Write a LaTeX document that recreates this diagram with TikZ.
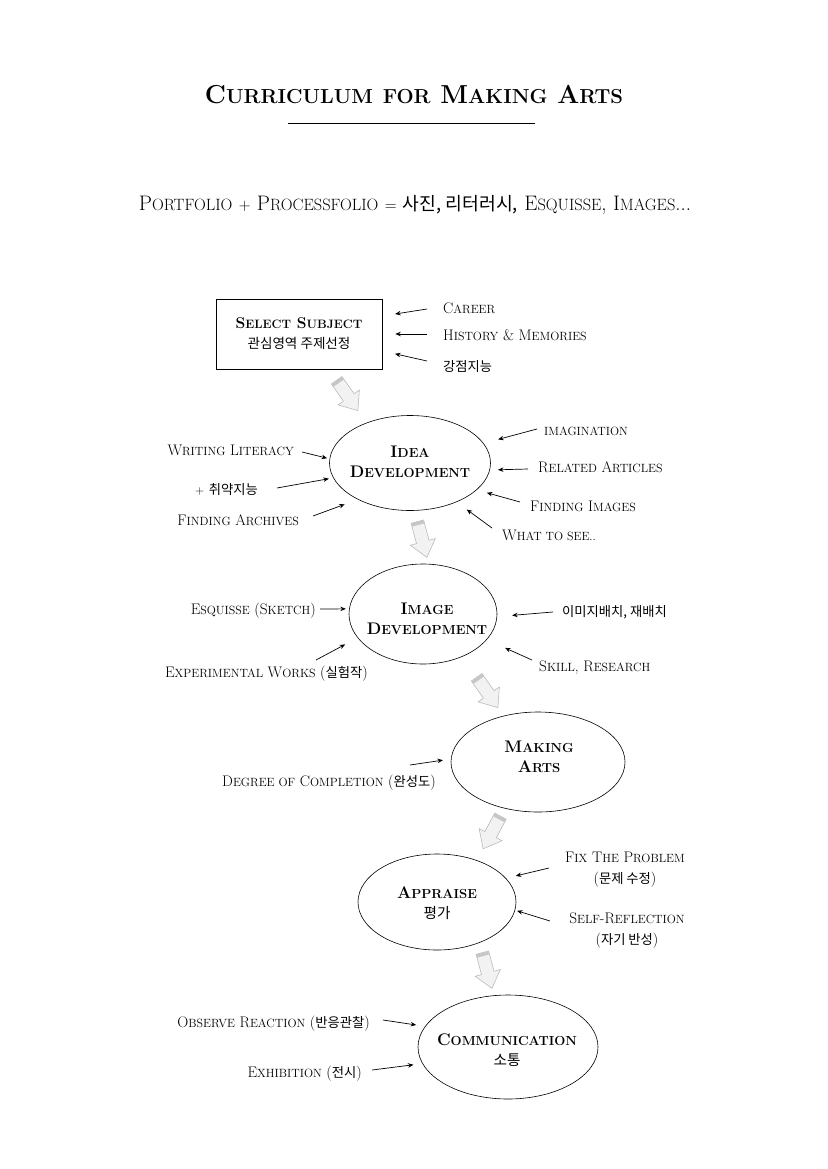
\documentclass[tikz,border=0pt]{standalone}
\usepackage{fontspec}
\newfontfamily\kr{Noto Sans CJK KR}
\usetikzlibrary{arrows.meta,shapes.geometric,calc}
\makeatletter
\newcommand\lo[1]{{\fontsize{\fpeval{0.78*\f@size}}{0}\selectfont #1}}
\newcommand\ko[1]{{\kr\mdseries\fontsize{\fpeval{0.87*\f@size}}{0}\selectfont #1}}
\makeatother
\tikzset{
  lbl/.style={font=\fontsize{15.3}{21}\selectfont, inner sep=0pt},
  ell/.style={ellipse, draw, line width=0.6pt, inner sep=0pt},
  ttl/.style={inner sep=0pt, align=center, font=\bfseries\fontsize{16.8}{20.5}\selectfont},
  lab/.style={-{Stealth[length=5.5pt,width=4.5pt]}, line width=0.7pt},
  blockarrow/.pic={
    \draw[draw=gray!60, fill=gray!10, line width=0.5pt]
      (-6.5,-18) -- (6.5,-18) -- (6.5,3) -- (13,3) -- (0,19) -- (-13,3) -- (-6.5,3) -- cycle;
    \fill[gray!45] (-6.2,-17.7) rectangle (6.2,-14.5);
  }
}
\begin{document}
\begin{tikzpicture}[x=1pt,y=-1pt]
\useasboundingbox[fill=white] (0,0) rectangle (827,1169);

% title
\node[font=\bfseries\fontsize{26}{30}\selectfont, inner sep=0] (title) at (414,95)
  {C\lo{URRICULUM} \lo{FOR} M\lo{AKING} A\lo{RTS}};
\draw[line width=0.8pt] (288,123) -- (535,123);
\node[font=\fontsize{21}{24}\selectfont, inner sep=0] (sub) at (415,205)
  {P\lo{ORTFOLIO} \lo{+} P\lo{ROCESSFOLIO} \lo{=} \ko{사진, 리터러시,} E\lo{SQUISSE}, I\lo{MAGES}...};

% select subject
\node[draw, line width=0.6pt, minimum width=166pt, minimum height=70pt, align=center,
  font=\bfseries\fontsize{15.6}{20}\selectfont] (sel) at (299,334)
  {S\lo{ELECT} S\lo{UBJECT}\\\ko{관심영역 주제선정}};
\node[lbl, anchor=base west] (career) at (443,313) {C\lo{AREER}};
\node[lbl, anchor=base west] (hist) at (443,340) {H\lo{ISTORY} \& M\lo{EMORIES}};
\node[lbl, anchor=base west] (gang) at (443,371) {\ko{강점지능}};
\coordinate (t1) at (427,309); \draw[lab, shorten >=13pt] (t1) -- ([yshift=18pt]sel.east);
\coordinate (t2) at (427,334); \draw[lab, shorten >=13pt] (t2) -- (sel.east);
\coordinate (t3) at (427,361); \draw[lab, shorten >=13pt] (t3) -- ([yshift=-17pt]sel.east);

\pic[rotate=35] at (347,395) {blockarrow};

% idea development
\node[ell, minimum width=161pt, minimum height=95pt] (idea) at (410,463) {};
\node[ttl] (ideaT) at (410,462) {I\lo{DEA}\\D\lo{EVELOPMENT}};
\node[lbl, anchor=base east] (wl) at (294,455) {W\lo{RITING} L\lo{ITERACY}};
\node[lbl, anchor=base east] (weak) at (258,494) {\lo{+} \ko{취약지능}};
\node[lbl, anchor=base east] (fa) at (299,525) {F\lo{INDING} A\lo{RCHIVES}};
\node[lbl, anchor=base west] (imag) at (544,435) {\lo{IMAGINATION}};
\node[lbl, anchor=base west] (rel) at (538,472) {R\lo{ELATED} A\lo{RTICLES}};
\node[lbl, anchor=base west] (fimg) at (530,511) {F\lo{INDING} I\lo{MAGES}};
\node[lbl, anchor=base west] (what) at (502,540) {W\lo{HAT TO SEE..}};
\coordinate (t4) at (302,452); \draw[lab, shorten >=2.5pt] (t4) -- (idea.177);
\coordinate (t5) at (277,488); \draw[lab, shorten >=4.4pt] (t5) -- (idea.191);
\coordinate (t6) at (313,516); \draw[lab, shorten >=14pt] (t6) -- (idea.215);
\coordinate (t7) at (537,429); \draw[lab, shorten >=15pt] (t7) -- (idea.15);
\coordinate (t8) at (528,469); \draw[lab, shorten >=8pt] (t8) -- (idea.355);
\coordinate (t9) at (520,502); \draw[lab, shorten >=10.5pt] (t9) -- (idea.338);
\coordinate (t10) at (492,528); \draw[lab, shorten >=12.6pt] (t10) -- (idea.320);

\pic[rotate=15] at (422,539) {blockarrow};

% image development
\node[ell, minimum width=148pt, minimum height=100pt] (imgd) at (423,614) {};
\node[ttl] (imgdT) at (427,619) {I\lo{MAGE}\\D\lo{EVELOPMENT}};
\node[lbl, anchor=base east] (esq) at (316,614) {E\lo{SQUISSE} (S\lo{KETCH})};
\node[lbl, anchor=base east] (exp) at (368,677) {E\lo{XPERIMENTAL} W\lo{ORKS} (\ko{실험작})};
\node[lbl, anchor=base west] (arr) at (562,616) {\ko{이미지배치, 재배치}};
\node[lbl, anchor=base west] (skill) at (539,671) {S\lo{KILL}, R\lo{ESEARCH}};
\coordinate (t11) at (320,609); \draw[lab, shorten >=3.3pt] (t11) -- (imgd.176);
\coordinate (t12) at (316,660); \draw[lab, shorten >=14pt] (t12) -- (imgd.200);
\coordinate (t13) at (553,612); \draw[lab, shorten >=15pt] (t13) -- (imgd.358);
\coordinate (t14) at (532,660); \draw[lab, shorten >=20pt] (t14) -- (imgd.338);

\pic[rotate=35] at (487,692) {blockarrow};

% making arts
\node[ell, minimum width=174pt, minimum height=100pt] (mak) at (538,762) {};
\node[ttl] (makT) at (539,757) {M\lo{AKING}\\A\lo{RTS}};
\node[lbl, anchor=base east] (deg) at (436,786) {D\lo{EGREE OF} C\lo{OMPLETION} (\ko{완성도})};
\coordinate (t15) at (410,765); \draw[lab, shorten >=8pt] (t15) -- (mak.178);

\pic[rotate=-28] at (492,832) {blockarrow};

% appraise
\node[ell, minimum width=158pt, minimum height=96pt] (app) at (437,902) {};
\node[ttl] (appT) at (437,903) {A\lo{PPRAISE}\\\ko{평가}};
\node[lbl, align=center] (fix) at (625,870) {F\lo{IX} T\lo{HE} P\lo{ROBLEM}\\(\ko{문제 수정})};
\node[lbl, align=center] (self) at (627,931) {S\lo{ELF}-R\lo{EFLECTION}\\(\ko{자기 반성})};
\coordinate (t16) at (549,868); \draw[lab, shorten >=10pt] (t16) -- (app.19);
\coordinate (t17) at (550,921); \draw[lab, shorten >=2pt] (t17) -- (app.354);

\pic[rotate=15] at (487,970) {blockarrow};

% communication
\node[ell, minimum width=180pt, minimum height=104pt] (com) at (508,1047) {};
\node[ttl] (comT) at (507,1050) {C\lo{OMMUNICATION}\\\ko{소통}};
\node[lbl, anchor=base east] (obs) at (370,1027) {O\lo{BSERVE} R\lo{EACTION} (\ko{반응관찰})};
\node[lbl, anchor=base east] (exh) at (362,1077) {E\lo{XHIBITION} (\ko{전시})};
\coordinate (t18) at (383,1020); \draw[lab, shorten >=9pt] (t18) -- (com.166);
\coordinate (t19) at (372,1070); \draw[lab, shorten >=9pt] (t19) -- (com.191);
\end{tikzpicture}
\end{document}
